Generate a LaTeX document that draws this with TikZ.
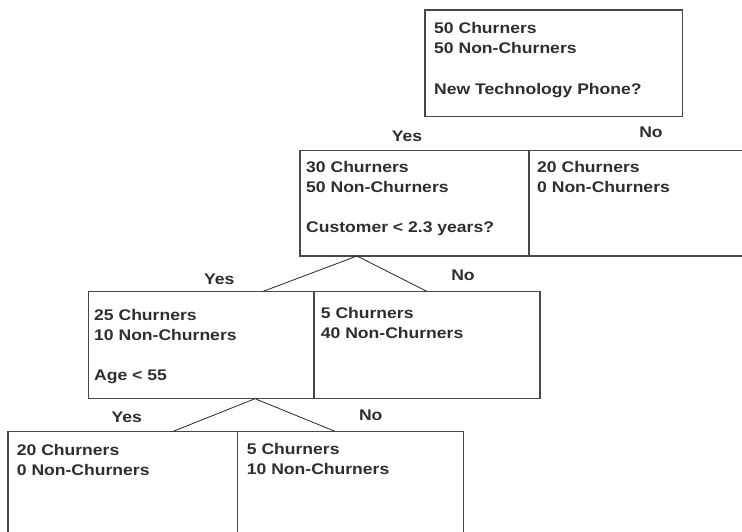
\documentclass[tikz,border=0pt]{standalone}
\usepackage{fontspec}
\setmainfont{Liberation Sans}[FakeStretch=1.14]
\begin{document}
\begin{tikzpicture}[x=1pt,y=-1pt,
  box/.style={draw=black!72,line width=1.2pt,rectangle,inner sep=0pt,outer sep=0pt,anchor=north west},
  txt/.style={anchor=base west,inner sep=0pt,text=black!82,font=\fontsize{15.4}{20}\selectfont\bfseries},
  lab/.style={anchor=base,inner sep=0pt,text=black!82,font=\fontsize{15.4}{20}\selectfont\bfseries},
  conn/.style={draw=black!85,line width=0.8pt}]
\useasboundingbox (0,0) rectangle (742,532);
\clip (0,0) rectangle (742,532);
% boxes
\node[box,minimum width=257.5,minimum height=106.5] (root) at (425,10) {};
\node[box,minimum width=229,minimum height=105.5] (l1l) at (300,150.5) {};
\node[box,minimum width=240,minimum height=105.5] (l1r) at (529,150.5) {};
\node[box,minimum width=225.3,minimum height=107.4] (l2l) at (88.7,291.3) {};
\node[box,minimum width=226,minimum height=107.4] (l2r) at (314,291.3) {};
\node[box,minimum width=229.7,minimum height=120] (l3l) at (8,431.3) {};
\node[box,minimum width=225.6,minimum height=120] (l3r) at (237.7,431.3) {};
% texts
\node[txt] (r1) at (434,33.5) {50 Churners};
\node[txt] (r2) at (434,53.5) {50 Non-Churners};
\node[txt] (r3) at (434,94.5) {New Technology Phone?};
\node[lab] (yes1) at (407,141.5) {Yes};
\node[lab] (no1) at (651,137.5) {No};
\node[txt] (a1) at (306,172.5) {30 Churners};
\node[txt] (a2) at (306,192.5) {50 Non-Churners};
\node[txt] (a3) at (306,232.5) {Customer < 2.3 years?};
\node[txt] (b1) at (537,173) {20 Churners};
\node[txt] (b2) at (537,193) {0 Non-Churners};
\node[lab] (yes2) at (219.3,284) {Yes};
\node[lab] (no2) at (463,280.5) {No};
\node[txt] (c1) at (94,320) {25 Churners};
\node[txt] (c2) at (94,340) {10 Non-Churners};
\node[txt] (c3) at (94,380) {Age < 55};
\node[txt] (d1) at (320.7,318.3) {5 Churners};
\node[txt] (d2) at (320.7,338.3) {40 Non-Churners};
\node[lab] (yes3) at (126.7,422.3) {Yes};
\node[lab] (no3) at (370.7,420.7) {No};
\node[txt] (e1) at (16.7,455) {20 Churners};
\node[txt] (e2) at (16.7,475) {0 Non-Churners};
\node[txt] (f1) at (246.7,454.3) {5 Churners};
\node[txt] (f2) at (246.7,474.3) {10 Non-Churners};
% connectors
\coordinate (ap1) at (357,256);
\coordinate (ap1l) at (263.3,291.3);
\coordinate (ap1r) at (426.7,291.3);
\coordinate (ap2) at (255,398.7);
\coordinate (ap2l) at (173.3,431.3);
\coordinate (ap2r) at (335,431.3);
\draw[conn] (ap1l) -- (ap1) -- (ap1r);
\draw[conn] (ap2l) -- (ap2) -- (ap2r);
\end{tikzpicture}
\end{document}
